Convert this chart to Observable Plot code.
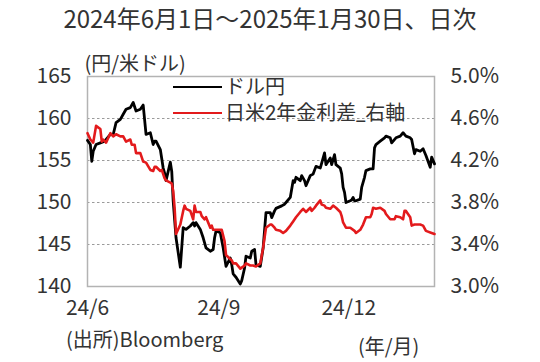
<!DOCTYPE html>
<html>
<head>
<meta charset="utf-8">
<script src="https://cdn.jsdelivr.net/npm/d3@7"></script>
<script src="https://cdn.jsdelivr.net/npm/@observablehq/plot@0.6"></script>
<style>
  html, body { margin: 0; padding: 0; background: #fff; }
  body { width: 540px; height: 362px; position: relative; overflow: hidden;
         font-family: "Noto Sans CJK JP", "Noto Sans", sans-serif; color: #333; }
  .abs { position: absolute; white-space: nowrap; }
  #title { left: 0; top: 0; width: 540px; text-align: center; font-size: 24px; line-height: 36px; }
  #chart { left: 0; top: 36px; }
  .leg { font-size: 20px; line-height: 20px; height: 20px; display: flex; align-items: center;
         font-family: Roboto, "Noto Sans CJK JP", sans-serif; }
  .leg .sw { width: 49px; height: 0; border-top: 2.6px solid; margin-right: 3px; }
  .cap { font-size: 20px; line-height: 24px; }
</style>
</head>
<body>
<div id="title" class="abs">2024年6月1日～2025年1月30日、日次</div>
<div id="chart" class="abs"></div>
<div id="leg1" class="abs leg" style="left:173px; top:77px;"><span class="sw" style="border-color:#000"></span>ドル円</div>
<div id="leg2" class="abs leg" style="left:173px; top:103px;"><span class="sw" style="border-color:#e31a1c"></span>日米2年金利差_右軸</div>
<div class="abs cap" style="left:66px; top:327px;">(出所)Bloomberg</div>
<div class="abs cap" style="left:358px; top:334px;">(年/月)</div>
<script>
// ---- data ----
const usdDates = ["2024-06-01","2024-06-03","2024-06-04","2024-06-05","2024-06-07","2024-06-10","2024-06-13","2024-06-17","2024-06-19","2024-06-21","2024-06-24","2024-06-26","2024-06-28","2024-07-01","2024-07-03","2024-07-05","2024-07-08","2024-07-10","2024-07-12","2024-07-15","2024-07-17","2024-07-18","2024-07-19","2024-07-22","2024-07-24","2024-07-25","2024-07-26","2024-07-29","2024-07-30","2024-07-31","2024-08-02","2024-08-05","2024-08-07","2024-08-09","2024-08-12","2024-08-14","2024-08-15","2024-08-16","2024-08-19","2024-08-21","2024-08-23","2024-08-26","2024-08-28","2024-08-29","2024-08-30","2024-09-02","2024-09-04","2024-09-06","2024-09-09","2024-09-10","2024-09-11","2024-09-13","2024-09-16","2024-09-17","2024-09-19","2024-09-20","2024-09-23","2024-09-24","2024-09-26","2024-09-27","2024-09-30","2024-10-02","2024-10-04","2024-10-07","2024-10-08","2024-10-10","2024-10-11","2024-10-15","2024-10-17","2024-10-18","2024-10-21","2024-10-23","2024-10-24","2024-10-25","2024-10-28","2024-10-29","2024-10-31","2024-11-01","2024-11-04","2024-11-06","2024-11-08","2024-11-11","2024-11-12","2024-11-14","2024-11-15","2024-11-18","2024-11-19","2024-11-21","2024-11-22","2024-11-25","2024-11-26","2024-11-27","2024-11-28","2024-11-29","2024-12-02","2024-12-03","2024-12-04","2024-12-05","2024-12-06","2024-12-09","2024-12-10","2024-12-12","2024-12-13","2024-12-16","2024-12-18","2024-12-19","2024-12-20","2024-12-23","2024-12-26","2024-12-27","2024-12-30","2024-12-31","2025-01-03","2025-01-06","2025-01-08","2025-01-10","2025-01-13","2025-01-14","2025-01-16","2025-01-17","2025-01-20","2025-01-22","2025-01-24","2025-01-27","2025-01-28","2025-01-30"];
const usdValues = [157.4,156.9,154.9,156.1,156.9,157.1,157.3,158.1,158.1,159.5,159.9,160.5,161.1,161.3,161.9,160.9,161.1,161.6,158.1,158.3,156.9,157.3,157.3,156.3,154.1,153.5,152.6,154.8,153.7,150.2,145.8,142.3,147.0,146.8,147.2,147.6,147.2,147.6,146.8,145.8,144.6,144.2,144.4,145.8,146.6,146.4,144.6,142.4,143.4,142.6,141.5,141.1,140.3,140.7,142.2,143.6,143.4,144.2,144.4,142.6,142.4,144.6,148.8,148.8,148.2,149.0,149.3,149.6,149.8,150.0,150.6,152.6,152.4,153.0,152.6,153.2,152.6,152.0,153.2,153.4,154.3,154.1,154.7,155.9,154.5,155.3,154.5,155.7,154.5,154.1,153.4,151.8,151.2,150.0,150.2,150.3,150.6,150.2,150.2,150.4,151.8,153.0,153.8,154.0,154.0,156.5,156.9,157.3,157.7,157.9,157.7,157.1,157.7,157.9,158.3,157.9,157.7,157.5,155.8,156.3,156.1,156.4,155.6,154.2,155.4,154.6];

const spreadDates = ["2024-06-01","2024-06-03","2024-06-05","2024-06-07","2024-06-10","2024-06-11","2024-06-12","2024-06-14","2024-06-17","2024-06-19","2024-06-21","2024-06-24","2024-06-26","2024-06-28","2024-07-01","2024-07-02","2024-07-04","2024-07-05","2024-07-08","2024-07-10","2024-07-12","2024-07-15","2024-07-17","2024-07-18","2024-07-19","2024-07-22","2024-07-23","2024-07-25","2024-07-26","2024-07-29","2024-07-30","2024-07-31","2024-08-01","2024-08-02","2024-08-05","2024-08-07","2024-08-08","2024-08-09","2024-08-12","2024-08-14","2024-08-15","2024-08-16","2024-08-19","2024-08-20","2024-08-22","2024-08-23","2024-08-26","2024-08-27","2024-08-28","2024-08-30","2024-09-02","2024-09-03","2024-09-05","2024-09-06","2024-09-09","2024-09-10","2024-09-11","2024-09-13","2024-09-16","2024-09-17","2024-09-19","2024-09-20","2024-09-23","2024-09-25","2024-09-27","2024-09-30","2024-10-02","2024-10-04","2024-10-07","2024-10-08","2024-10-10","2024-10-11","2024-10-14","2024-10-16","2024-10-18","2024-10-21","2024-10-23","2024-10-25","2024-10-28","2024-10-30","2024-11-01","2024-11-04","2024-11-05","2024-11-07","2024-11-08","2024-11-11","2024-11-12","2024-11-14","2024-11-15","2024-11-18","2024-11-20","2024-11-22","2024-11-25","2024-11-26","2024-11-27","2024-11-29","2024-12-02","2024-12-05","2024-12-06","2024-12-09","2024-12-11","2024-12-13","2024-12-16","2024-12-17","2024-12-18","2024-12-20","2024-12-23","2024-12-26","2024-12-27","2024-12-30","2025-01-02","2025-01-03","2025-01-06","2025-01-08","2025-01-09","2025-01-10","2025-01-13","2025-01-14","2025-01-16","2025-01-20","2025-01-22","2025-01-24","2025-01-28","2025-01-30"];
const spreadValues = [4.46,4.40,4.37,4.53,4.50,4.38,4.40,4.37,4.46,4.43,4.45,4.43,4.43,4.38,4.40,4.35,4.35,4.27,4.27,4.19,4.18,4.11,4.10,4.14,4.14,4.10,4.11,4.03,4.01,3.99,3.98,3.91,3.75,3.50,3.59,3.72,3.77,3.74,3.72,3.64,3.77,3.71,3.71,3.67,3.64,3.66,3.56,3.58,3.54,3.54,3.54,3.54,3.43,3.30,3.26,3.25,3.22,3.22,3.17,3.18,3.20,3.22,3.20,3.20,3.19,3.22,3.37,3.56,3.59,3.59,3.56,3.54,3.53,3.51,3.53,3.58,3.62,3.66,3.71,3.74,3.71,3.75,3.72,3.75,3.77,3.82,3.78,3.77,3.75,3.74,3.77,3.75,3.71,3.67,3.61,3.56,3.56,3.53,3.51,3.54,3.59,3.66,3.66,3.69,3.75,3.74,3.75,3.72,3.69,3.64,3.64,3.67,3.66,3.64,3.72,3.72,3.66,3.58,3.59,3.59,3.58,3.53,3.51,3.50];

const yTicks = [140, 145, 150, 155, 160, 165];
const rateTicks = [3.0, 3.4, 3.8, 4.2, 4.6, 5.0];
const rateLabels = ["3.0%", "3.4%", "3.8%", "4.2%", "4.6%", "5.0%"];
const gridValues = [145, 150, 155, 160];
const xTickDates = ["2024-06-01", "2024-09-01", "2024-12-01"];
const xTickLabels = ["24/6", "24/9", "24/12"];
const xDomain = ["2024-06-01", "2025-01-30"];
const yUnitLabel = "(円/米ドル)";

// ---- build ----
const parse = s => new Date(s + "T00:00:00Z");
const usd = usdDates.map((d, i) => ({date: parse(d), value: usdValues[i]}));
// map right-axis (rate) values onto the left-axis (yen) scale
const r0 = rateTicks[0], r1 = rateTicks[rateTicks.length - 1];
const y0 = yTicks[0], y1 = yTicks[yTicks.length - 1];
const toLeft = r => y0 + (r - r0) * (y1 - y0) / (r1 - r0);
const spread = spreadDates.map((d, i) => ({date: parse(d), value: toLeft(spreadValues[i])}));
const xTicks = xTickDates.map(parse);

const chart = Plot.plot({
  width: 540,
  height: 290,
  marginLeft: 87,
  marginRight: 106,
  marginTop: 40,
  marginBottom: 40,
  style: {fontFamily: '"Noto Sans CJK JP", "Noto Sans", sans-serif', fontSize: "21px", color: "#333", background: "transparent", overflow: "visible"},
  x: {type: "utc", domain: xDomain.map(parse)},
  y: {domain: [y0, y1]},
  marks: [
    Plot.ruleY(gridValues, {stroke: "#9a9a9a", strokeWidth: 1, strokeDasharray: "2.5,2.5"}),
    Plot.frame({stroke: "#b3b3b3", strokeWidth: 1.5}),
    Plot.axisY(yTicks, {anchor: "left", tickSize: 0, tickPadding: 16, label: null, fill: "#333", fontSize: 21}),
    Plot.axisY(yTicks, {anchor: "right", tickSize: 0, tickPadding: 16, label: null, fill: "#333", fontSize: 21,
      tickFormat: d => rateLabels[yTicks.indexOf(d)]}),
    Plot.axisX(xTicks, {anchor: "bottom", tickSize: 0, tickPadding: 14, label: null, fill: "#333", fontSize: 21,
      tickFormat: d => xTickLabels[xTicks.findIndex(t => +t === +d)]}),
    Plot.line(usd, {x: "date", y: "value", stroke: "#000", strokeWidth: 2.8, strokeLinejoin: "round"}),
    Plot.line(spread, {x: "date", y: "value", stroke: "#e31a1c", strokeWidth: 2.6, strokeLinejoin: "round"}),
    Plot.text([yUnitLabel], {frameAnchor: "top-left", textAnchor: "start", lineAnchor: "middle", dx: -3, dy: -12, fontSize: 20, fill: "#333"})
  ]
});
document.getElementById("chart").appendChild(chart);
</script>
</body>
</html>
